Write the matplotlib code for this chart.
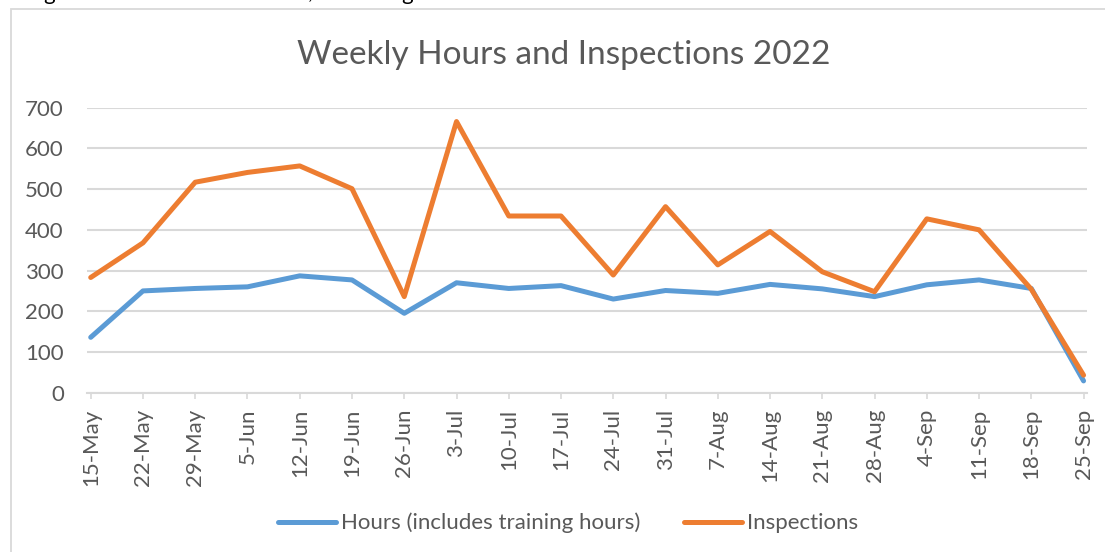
import matplotlib
matplotlib.use("Agg")
import matplotlib.pyplot as plt
from matplotlib.patches import Rectangle

# week starting dates
weeks = ['15-May', '22-May', '29-May', '5-Jun', '12-Jun', '19-Jun', '26-Jun',
         '3-Jul', '10-Jul', '17-Jul', '24-Jul', '31-Jul', '7-Aug', '14-Aug',
         '21-Aug', '28-Aug', '4-Sep', '11-Sep', '18-Sep', '25-Sep']

# values
hours = [136, 250, 256, 260, 287, 277, 195, 270, 256, 263,
         230, 251, 244, 266, 255, 236, 265, 277, 256, 29]
inspections = [283, 368, 517, 541, 557, 501, 236, 666, 434, 434,
               289, 457, 314, 396, 297, 248, 427, 400, 254, 43]

y_ticks = [0, 100, 200, 300, 400, 500, 600, 700]

blue = '#5B9BD5'
orange = '#ED7D31'
text_grey = '#595959'
grid_grey = '#D9D9D9'

plt.rcParams['font.family'] = ['Lato', 'DejaVu Sans']

W, H = 1105, 552
fig = plt.figure(figsize=(W / 100, H / 100), dpi=100)

# chart border (only left and top edges are visible in the crop)
fig.patches.append(Rectangle((10.5 / W, -0.1), 1.2, 1.1 - 9 / H, transform=fig.transFigure,
                             facecolor='none', edgecolor=grid_grey, linewidth=1.3, zorder=-1))

# bits of caption text cut off above the chart
for gx, glyph in [(49, 'g'), (310, ','), (407, 'g')]:
    fig.text(gx / W, 1 + 0.5 / H, glyph, ha='center', va='baseline', fontsize=16, color='black')

ax = fig.add_axes([86.7 / W, (H - 392.7) / H, 1000 / W, 285 / H])
x = list(range(len(weeks)))
ax.plot(x, hours, color=blue, linewidth=3.6, solid_capstyle='round', solid_joinstyle='round',
        label='Hours (includes training hours)', clip_on=False, zorder=3)
ax.plot(x, inspections, color=orange, linewidth=3.6, solid_capstyle='round', solid_joinstyle='round',
        label='Inspections', clip_on=False, zorder=4)

ax.set_xlim(-0.077, 19.06)
ax.set_ylim(0, 700)
ax.set_yticks(y_ticks)
ax.set_xticks(x)
ax.set_xticklabels(weeks, rotation=90, va='top', ha='center')

for side in ['top', 'right', 'left']:
    ax.spines[side].set_visible(False)
ax.spines['bottom'].set_color(grid_grey)
ax.spines['bottom'].set_linewidth(1.5)
ax.yaxis.grid(True, color=grid_grey, linewidth=1.5)
ax.set_axisbelow(True)
ax.tick_params(axis='y', length=0, pad=16.5, labelsize=16, labelcolor=text_grey)
ax.tick_params(axis='x', length=4.5, width=1.2, color=grid_grey, pad=7, labelsize=16,
               labelcolor=text_grey)

fig.text(564 / W, 1 - 55 / H, 'Weekly Hours and Inspections 2022', ha='center', va='center',
         fontsize=24, color=text_grey)

fig.legend(loc='center', bbox_to_anchor=(568 / W, 1 - 523 / H), ncol=2, frameon=False,
           fontsize=16, labelcolor=text_grey, handlelength=2.6, handletextpad=0.2,
           columnspacing=2.0)

fig.savefig('out.png', dpi=100)
